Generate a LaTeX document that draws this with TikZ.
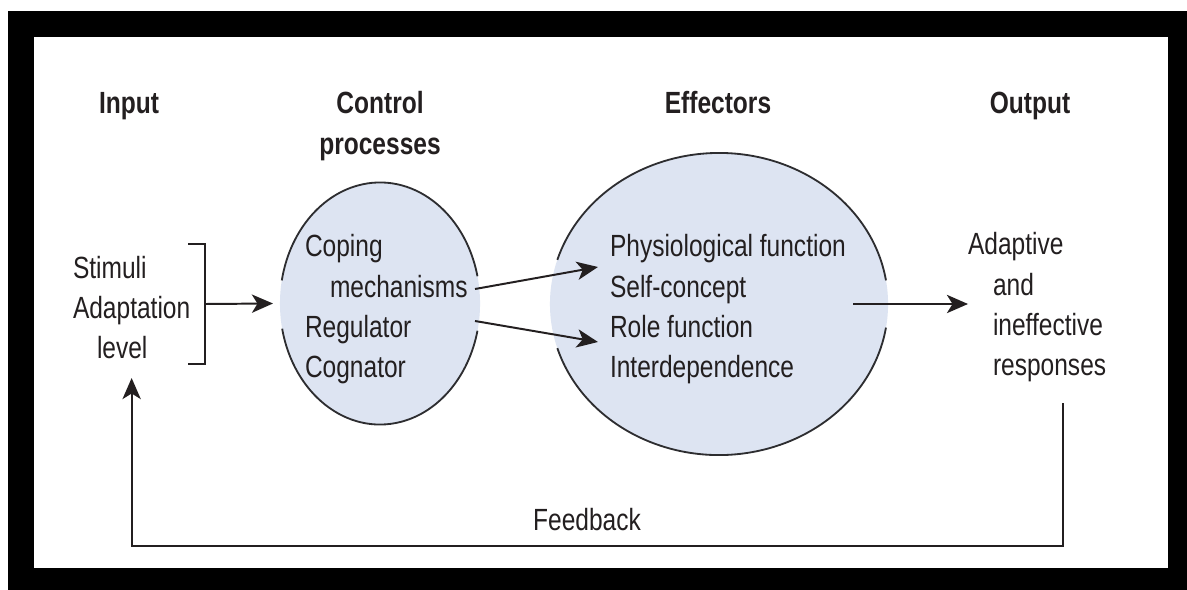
\documentclass[tikz,border=0pt]{standalone}
\usepackage{fontspec}
\setmainfont{Liberation Sans}[FakeStretch=0.8]
\usetikzlibrary{arrows.meta, shapes.geometric}
\definecolor{inkcolor}{RGB}{35,31,32}
\definecolor{bubblecolor}{RGB}{221,228,242}
\definecolor{rimcolor}{RGB}{45,45,48}
\newcommand{\diagsize}{\fontsize{21.8pt}{28.45pt}\selectfont}
\tikzset{
  head/.style={
    font=\diagsize\bfseries,
    text=inkcolor,
    inner sep=0pt,
    outer sep=0pt,
    anchor=base
  },
  body/.style={
    font=\diagsize,
    text=inkcolor,
    inner sep=0pt,
    outer sep=0pt,
    anchor=base west
  },
  bubble/.style={
    ellipse,
    fill=bubblecolor,
    draw=none,
    inner sep=0pt,
    outer sep=0pt
  },
  rim/.style={
    draw=rimcolor,
    line width=1.3pt
  },
  wire/.style={
    draw=inkcolor,
    line width=1.4pt
  },
  arrow/.style={
    wire,
    -{Stealth[length=15pt, width=13pt, inset=4pt]}
  }
}
\newcommand{\leftlines}[1]{\begin{tabular}[t]{@{}l@{}}#1\end{tabular}}
\newcommand{\midlines}[1]{\begin{tabular}[t]{@{}c@{}}#1\end{tabular}}

\begin{document}
\begin{tikzpicture}[x=0.025cm, y=-0.025cm]

% Frame
\fill[white] (0,0) rectangle (1187,590);
\fill[black] (8,11) rectangle (1187,590);
\fill[white] (34,37) rectangle (1168,568);
\useasboundingbox (0,0) rectangle (1187,590);

% Bubbles
\node[bubble, minimum width=5cm, minimum height=6.05cm] (ctrl) at (380,303.5) {};
\node[bubble, minimum width=8.45cm, minimum height=7.55cm] (eff) at (719,304) {};

% Outlines, left open where the arrows pass
\draw[rim] (ctrl.center) ++(13:2.5cm and 3.025cm)
  arc[start angle=13, end angle=169, x radius=2.5cm, y radius=3.025cm];
\draw[rim] (ctrl.center) ++(192:2.5cm and 3.025cm)
  arc[start angle=192, end angle=347, x radius=2.5cm, y radius=3.025cm];
\draw[rim] (eff.center) ++(9:4.225cm and 3.775cm)
  arc[start angle=9, end angle=163, x radius=4.225cm, y radius=3.775cm];
\draw[rim] (eff.center) ++(197:4.225cm and 3.775cm)
  arc[start angle=197, end angle=351, x radius=4.225cm, y radius=3.775cm];

% Headings
\node[head] (inhead) at (129,114) {Input};
\node[head] (ctrlhead) at (380,114) {\midlines{Control\\processes}};
\node[head] (effhead) at (718,114) {Effectors};
\node[head] (outhead) at (1030,114) {Output};

% Texts
\node[body] (stimtxt) at (73,278) {\leftlines{Stimuli\\Adaptation\\\hspace*{0.6cm}level}};
\node[body] (ctrltxt) at (305,257) {\leftlines{Coping\\\hspace*{0.625cm}mechanisms\\Regulator\\Cognator}};
\node[body] (efftxt) at (610,257) {\leftlines{Physiological function\\Self-concept\\Role function\\Interdependence}};
\node[body] (outtxt) at (968,255) {\leftlines{Adaptive\\\hspace*{0.625cm}and\\\hspace*{0.625cm}ineffective\\\hspace*{0.625cm}responses}};

% Bracket and arrows
\coordinate (brk) at (205,304);
\draw[wire] ([shift={(-17,-60)}]brk) -| ([shift={(0,60)}]brk) -- ++(-17,0);
\draw[arrow] (brk) -- ([shift={(-7,0)}]ctrl.west);
\draw[arrow] ([shift={(-5,-14.5)}]ctrl.east) -- ([shift={(48,-37)}]eff.west);
\draw[arrow] ([shift={(-5,17.5)}]ctrl.east) -- ([shift={(48,38)}]eff.west);
\draw[arrow] ([shift={(-35,0)}]eff.east) -- (eff.east -| outtxt.west);

% Feedback loop
\coordinate (fbk) at (587,546);
\draw[arrow] ([shift={(26,16)}]outtxt.south) |- (fbk) -| ([shift={(0,8)}]stimtxt.south);
\node[body, anchor=base] (fblabel) at ([shift={(0,-16)}]fbk) {Feedback};

\end{tikzpicture}
\end{document}
